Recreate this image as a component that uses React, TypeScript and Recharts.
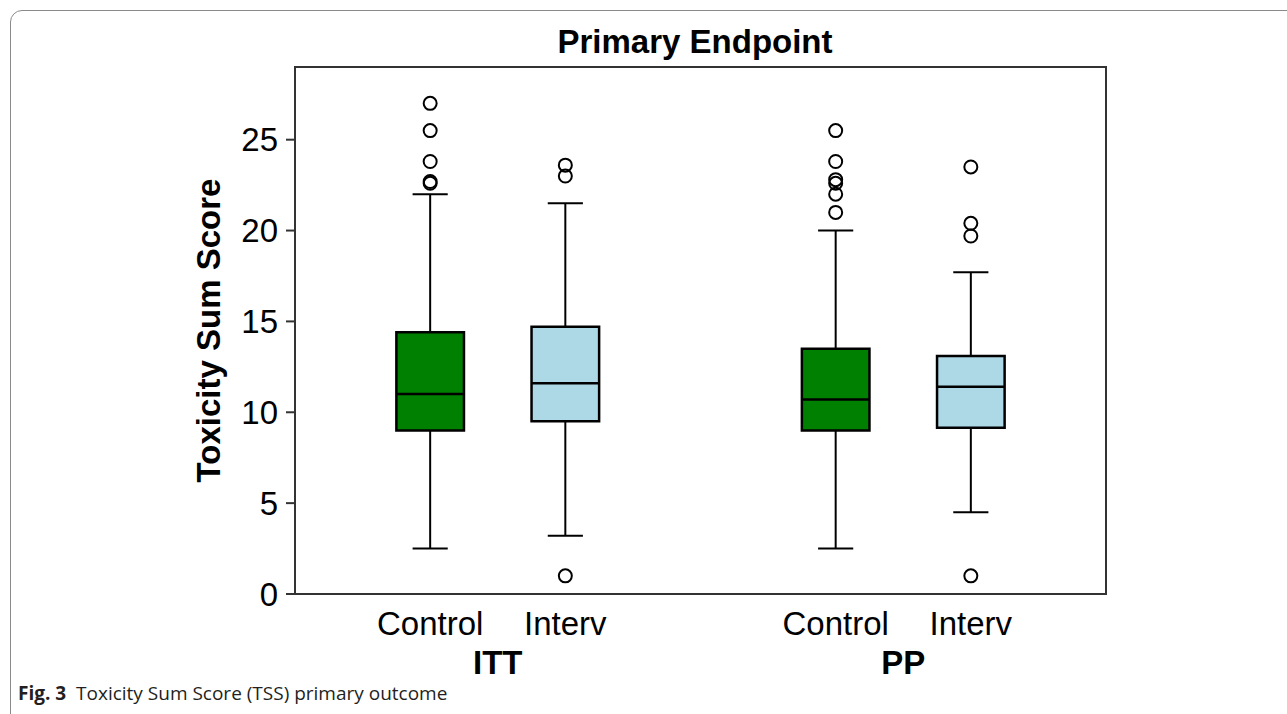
import React from 'react';
import {
    ComposedChart,
    Scatter,
    XAxis,
    YAxis,
    ReferenceArea,
    ReferenceLine,
} from 'recharts';

// box plot values
const groupLabels = ['ITT', 'PP'];
const groupPositions = [1.5, 4.5];
const boxLabels = ['Control', 'Interv', 'Control', 'Interv'];
const boxPositions = [1, 2, 4, 5];
const boxColors = ['#008000', '#add8e6', '#008000', '#add8e6'];
const whiskerLow = [2.5, 3.2, 2.5, 4.5];
const q1 = [9.0, 9.5, 9.0, 9.15];
const median = [11.0, 11.6, 10.7, 11.4];
const q3 = [14.4, 14.7, 13.5, 13.1];
const whiskerHigh = [22.0, 21.5, 20.0, 17.7];
const outliers = [
    [27.0, 25.5, 23.8, 22.6, 22.7],
    [23.6, 23.0, 1.0],
    [25.5, 23.8, 22.8, 22.6, 22.0, 21.0],
    [23.5, 20.4, 19.7, 1.0],
];
const yTicks = [0, 5, 10, 15, 20, 25];
const X_DOMAIN: [number, number] = [0, 6];
const Y_DOMAIN: [number, number] = [0, 29];

const BOX_HALF = 0.25;
const CAP_HALF = 0.13;
const FONT = '"Liberation Sans", Arial, sans-serif';

const outlierPoints = outliers.flatMap((vals, i) =>
    vals.map((v) => ({ x: boxPositions[i], y: v }))
);

const OutlierDot = (props: any) => (
    <circle cx={props.cx} cy={props.cy} r={6.5} fill="none" stroke="#000" strokeWidth={2} />
);

export default function App() {
    return (
        <div
            style={{
                position: 'relative',
                width: 1287,
                height: 714,
                overflow: 'hidden',
                background: '#fff',
                fontFamily: FONT,
            }}
        >
            <style>{'body{margin:0}'}</style>
            <div
                style={{
                    position: 'absolute',
                    left: 10,
                    top: 10,
                    width: 1310,
                    height: 730,
                    border: '1px solid #8a8a8a',
                    borderRadius: 12,
                }}
            />
            <div style={{ position: 'absolute', left: 0, top: 0 }}>
                <ComposedChart
                    width={1287}
                    height={714}
                    margin={{ top: 67, right: 181, bottom: 35, left: 185 }}
                >
                    <XAxis
                        xAxisId="cat"
                        type="number"
                        dataKey="x"
                        domain={X_DOMAIN}
                        ticks={boxPositions}
                        tickFormatter={(v) => boxLabels[boxPositions.indexOf(v)] ?? ''}
                        axisLine={{ stroke: '#333', strokeWidth: 2 }}
                        tickLine={false}
                        tickSize={8}
                        tickMargin={10}
                        height={45}
                        tick={{ fontSize: 33, fill: '#000', fontFamily: FONT }}
                        allowDataOverflow
                    />
                    <XAxis
                        xAxisId="group"
                        type="number"
                        dataKey="x"
                        domain={X_DOMAIN}
                        ticks={groupPositions}
                        tickFormatter={(v) => groupLabels[groupPositions.indexOf(v)] ?? ''}
                        axisLine={false}
                        tickLine={false}
                        tickSize={0}
                        tickMargin={12}
                        height={40}
                        tick={{ fontSize: 33, fontWeight: 'bold', fill: '#000', fontFamily: FONT }}
                        allowDataOverflow
                    />
                    <YAxis
                        type="number"
                        dataKey="y"
                        domain={Y_DOMAIN}
                        ticks={yTicks}
                        width={110}
                        axisLine={{ stroke: '#333', strokeWidth: 2 }}
                        tickLine={{ stroke: '#333', strokeWidth: 2 }}
                        tickSize={9}
                        tickMargin={8}
                        tick={{ fontSize: 33, fill: '#000', fontFamily: FONT }}
                        allowDataOverflow
                        label={{
                            value: 'Toxicity Sum Score',
                            angle: -90,
                            position: 'insideLeft',
                            offset: 23,
                            style: {
                                textAnchor: 'middle',
                                fontSize: 33,
                                fontWeight: 'bold',
                                fill: '#000',
                                fontFamily: FONT,
                            },
                        }}
                    />

                    {/* plot frame */}
                    <ReferenceArea
                        xAxisId="cat"
                        x1={X_DOMAIN[0]}
                        x2={X_DOMAIN[1]}
                        y1={Y_DOMAIN[0]}
                        y2={Y_DOMAIN[1]}
                        fill="none"
                        fillOpacity={0}
                        stroke="#333"
                        strokeWidth={2}
                    />

                    {/* whiskers */}
                    {boxPositions.map((p, i) => (
                        <ReferenceLine
                            key={`wl-${i}`}
                            xAxisId="cat"
                            segment={[{ x: p, y: whiskerLow[i] }, { x: p, y: q1[i] }]}
                            stroke="#000"
                            strokeWidth={2}
                        />
                    ))}
                    {boxPositions.map((p, i) => (
                        <ReferenceLine
                            key={`wh-${i}`}
                            xAxisId="cat"
                            segment={[{ x: p, y: q3[i] }, { x: p, y: whiskerHigh[i] }]}
                            stroke="#000"
                            strokeWidth={2}
                        />
                    ))}
                    {boxPositions.map((p, i) => (
                        <ReferenceLine
                            key={`cl-${i}`}
                            xAxisId="cat"
                            segment={[
                                { x: p - CAP_HALF, y: whiskerLow[i] },
                                { x: p + CAP_HALF, y: whiskerLow[i] },
                            ]}
                            stroke="#000"
                            strokeWidth={2}
                        />
                    ))}
                    {boxPositions.map((p, i) => (
                        <ReferenceLine
                            key={`ch-${i}`}
                            xAxisId="cat"
                            segment={[
                                { x: p - CAP_HALF, y: whiskerHigh[i] },
                                { x: p + CAP_HALF, y: whiskerHigh[i] },
                            ]}
                            stroke="#000"
                            strokeWidth={2}
                        />
                    ))}

                    {/* boxes */}
                    {boxPositions.map((p, i) => (
                        <ReferenceArea
                            key={`box-${i}`}
                            xAxisId="cat"
                            x1={p - BOX_HALF}
                            x2={p + BOX_HALF}
                            y1={q1[i]}
                            y2={q3[i]}
                            fill={boxColors[i]}
                            fillOpacity={1}
                            stroke="#000"
                            strokeWidth={2.5}
                        />
                    ))}

                    {/* medians */}
                    {boxPositions.map((p, i) => (
                        <ReferenceLine
                            key={`med-${i}`}
                            xAxisId="cat"
                            segment={[
                                { x: p - BOX_HALF, y: median[i] },
                                { x: p + BOX_HALF, y: median[i] },
                            ]}
                            stroke="#000"
                            strokeWidth={2.5}
                        />
                    ))}

                    <Scatter
                        xAxisId="cat"
                        data={outlierPoints}
                        dataKey="y"
                        shape={OutlierDot}
                        isAnimationActive={false}
                    />
                </ComposedChart>
            </div>

            <div
                style={{
                    position: 'absolute',
                    left: 0,
                    width: 1390,
                    top: 25,
                    textAlign: 'center',
                    fontSize: 33,
                    lineHeight: '33px',
                    fontWeight: 'bold',
                    color: '#000',
                    whiteSpace: 'nowrap',
                }}
            >
                Primary Endpoint
            </div>

            <div
                style={{
                    position: 'absolute',
                    left: 18,
                    top: 682,
                    fontFamily: '"Open Sans", "Noto Sans", sans-serif',
                    fontSize: 19,
                    lineHeight: '22px',
                    color: '#231f20',
                    whiteSpace: 'nowrap',
                }}
            >
                <span style={{ fontWeight: 'bold' }}>Fig. 3</span>
                <span>{'\u00a0 Toxicity Sum Score (TSS) primary outcome'}</span>
            </div>
        </div>
    );
}
